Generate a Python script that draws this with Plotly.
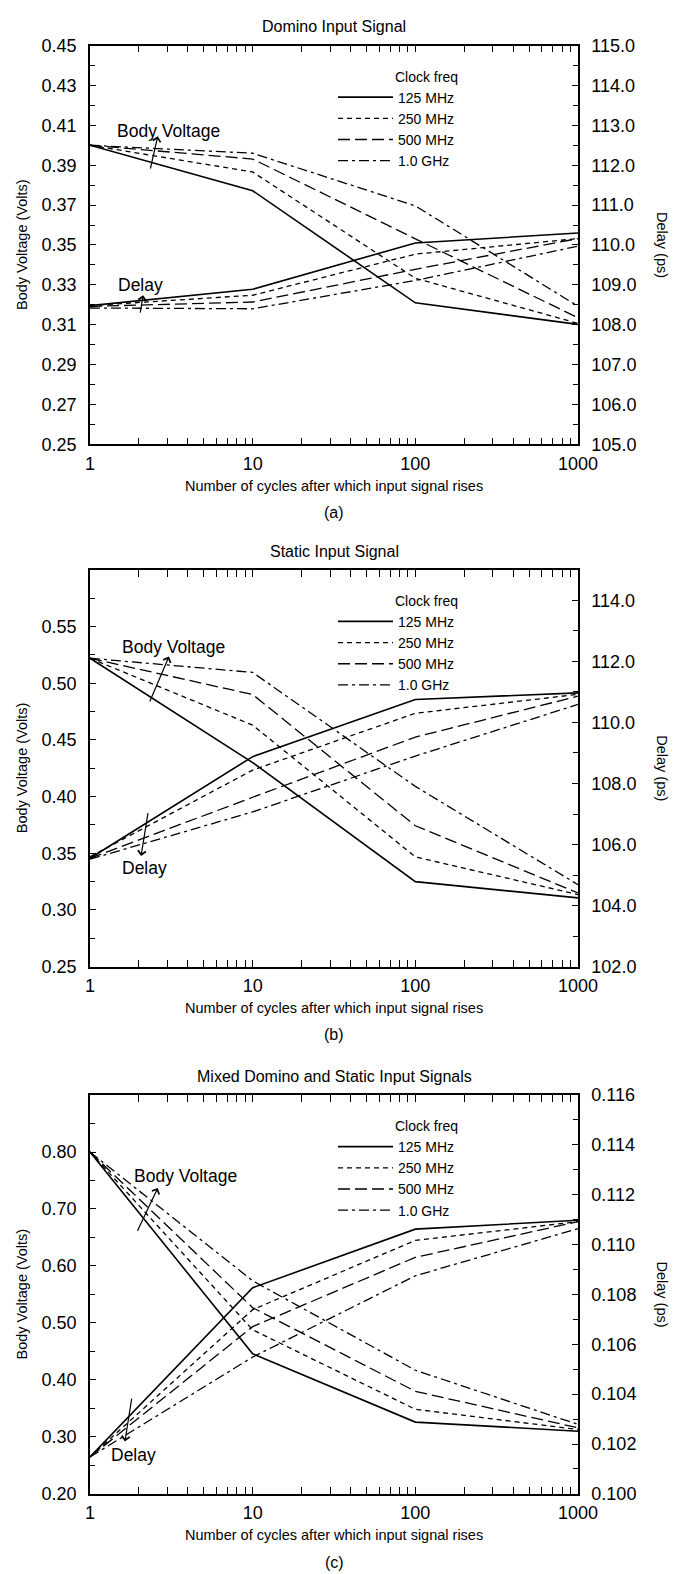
import numpy as np
import plotly.graph_objects as go

# ---------------- data ----------------
cycles = [1, 10, 100, 1000]
freq_labels = ["125 MHz", "250 MHz", "500 MHz", "1.0 GHz"]

# (a) Domino input signal
a_body_125 = [0.400, 0.3772, 0.3210, 0.3102]
a_body_250 = [0.400, 0.3866, 0.3333, 0.3107]
a_body_500 = [0.400, 0.3931, 0.3531, 0.3135]
a_body_1g = [0.400, 0.3960, 0.3696, 0.3193]
a_delay_125 = [108.48, 108.89, 110.05, 110.30]
a_delay_250 = [108.48, 108.74, 109.77, 110.16]
a_delay_500 = [108.46, 108.57, 109.39, 110.16]
a_delay_1g = [108.42, 108.40, 109.11, 109.97]

# (b) Static input signal
b_body_125 = [0.522, 0.430, 0.325, 0.3107]
b_body_250 = [0.522, 0.463, 0.3468, 0.3136]
b_body_500 = [0.522, 0.490, 0.3743, 0.3150]
b_body_1g = [0.522, 0.5095, 0.409, 0.3223]
b_delay_125 = [105.55, 108.88, 110.75, 110.97]
b_delay_250 = [105.60, 108.44, 110.30, 110.92]
b_delay_500 = [105.55, 107.55, 109.52, 110.86]
b_delay_1g = [105.52, 107.07, 108.90, 110.59]

# (c) Mixed domino and static input signals
c_body_125 = [0.800, 0.4460, 0.326, 0.310]
c_body_250 = [0.800, 0.4880, 0.3485, 0.313]
c_body_500 = [0.800, 0.5268, 0.380, 0.316]
c_body_1g = [0.800, 0.5740, 0.417, 0.322]
c_delay_125 = [0.10148, 0.10827, 0.11062, 0.11098]
c_delay_250 = [0.10148, 0.10739, 0.11017, 0.11092]
c_delay_500 = [0.10148, 0.10671, 0.10949, 0.11092]
c_delay_1g = [0.10148, 0.10549, 0.10875, 0.11064]

panel_titles = ["Domino Input Signal", "Static Input Signal",
                "Mixed Domino and Static Input Signals"]
panel_letters = ["(a)", "(b)", "(c)"]
x_title = "Number of cycles after which input signal rises"
left_title = "Body Voltage (Volts)"
right_title = "Delay (ps)"
x_tickvals = [1, 10, 100, 1000]
x_ticktext = ["1", "10", "100", "1000"]

# ---------------- styling / layout ----------------
W, H = 676, 1574
ML, MR = 90, 98
FONT = "Liberation Sans, Arial, Helvetica, sans-serif"
dash_styles = ["solid", "5px,4px", "12px,5px", "10px,4px,3px,4px"]
widths = [1.6, 1.3, 1.3, 1.3]

def py(px):
    return 1 - px / H

def pxx(px):
    return (px - ML) / (W - ML - MR)

# panel pixel boxes (top, bottom)
boxes = [(36, 440), (567, 969), (1099, 1503)]

panels = [
    dict(body=[a_body_125, a_body_250, a_body_500, a_body_1g],
         delay=[a_delay_125, a_delay_250, a_delay_500, a_delay_1g],
         lrange=[0.25, 0.45], ltick=[round(0.25 + 0.02 * i, 2) for i in range(11)], lminor=0.01, lfmt=".2f",
         rrange=[105, 115], rtick=list(range(105, 116)), rminor=0.5, rfmt=".1f",
         bv_text=(3.02, 0.407), bv_arrow=((2.34, 0.3876), (2.61, 0.4045)),
         d_text=(2.03, 0.3297), d_arrow=((2.03, 0.3153), (2.12, 0.3248))),
    dict(body=[b_body_125, b_body_250, b_body_500, b_body_1g],
         delay=[b_delay_125, b_delay_250, b_delay_500, b_delay_1g],
         lrange=[0.25, 0.60], ltick=[0.25, 0.30, 0.35, 0.40, 0.45, 0.50, 0.55], lminor=0.025, lfmt=".2f",
         rrange=[102, 115], rtick=list(range(102, 115, 2)), rminor=1, rfmt=".1f",
         bv_text=(3.28, 0.532), bv_arrow=((2.31, 0.4826), (3.06, 0.5235)),
         d_text=(2.15, 0.337), d_arrow=((2.28, 0.3868), (2.06, 0.3476))),
    dict(body=[c_body_125, c_body_250, c_body_500, c_body_1g],
         delay=[c_delay_125, c_delay_250, c_delay_500, c_delay_1g],
         lrange=[0.20, 0.90], ltick=[0.2, 0.3, 0.4, 0.5, 0.6, 0.7, 0.8], lminor=0.05, lfmt=".2f",
         rrange=[0.100, 0.116], rtick=[round(0.100 + 0.002 * i, 3) for i in range(9)], rminor=0.001, rfmt=".3f",
         bv_text=(3.89, 0.758), bv_arrow=((1.94, 0.659), (2.61, 0.737)),
         d_text=(1.84, 0.2676), d_arrow=((1.81, 0.37), (1.64, 0.292))),
]

fig = go.Figure()
layout = dict(width=W, height=H, margin=dict(l=ML, r=MR, t=0, b=0),
              paper_bgcolor="white", plot_bgcolor="white",
              font=dict(family=FONT, color="black"), showlegend=True)
annotations = []
minor_x = [m * d for d in (1, 10, 100) for m in range(2, 10)]

for i, p in enumerate(panels):
    n = i + 1
    xa = "x" if n == 1 else f"x{n}"
    yl_n = 2 * n - 1
    yr_n = 2 * n
    yl = "y" if yl_n == 1 else f"y{yl_n}"
    yr = f"y{yr_n}"
    leg = "legend" if n == 1 else f"legend{n}"
    top, bot = boxes[i]

    for k in range(4):
        fig.add_trace(go.Scatter(x=cycles, y=p["body"][k], mode="lines", name=freq_labels[k],
                                 line=dict(color="black", width=widths[k], dash=dash_styles[k]),
                                 xaxis=xa, yaxis=yl, legend=leg, showlegend=True))
    for k in range(4):
        fig.add_trace(go.Scatter(x=cycles, y=p["delay"][k], mode="lines", name=freq_labels[k],
                                 line=dict(color="black", width=widths[k], dash=dash_styles[k]),
                                 xaxis=xa, yaxis=yr, legend=leg, showlegend=False))

    xkey = "xaxis" if n == 1 else f"xaxis{n}"
    ylkey = "yaxis" if yl_n == 1 else f"yaxis{yl_n}"
    yrkey = f"yaxis{yr_n}"
    layout[xkey] = dict(type="log", range=[0, 3], domain=[0, 1], anchor=yl,
                        tickvals=x_tickvals, ticktext=x_ticktext, ticks="inside", ticklen=7,
                        tickwidth=1, tickcolor="black", showline=True, linecolor="black",
                        linewidth=1.5, mirror="allticks", showgrid=False, zeroline=False,
                        tickfont=dict(size=18, family=FONT, color="black"), ticklabelstandoff=2,
                        minor=dict(tickvals=minor_x, ticks="inside", ticklen=3, tickcolor="black",
                                   tickwidth=1, showgrid=False))
    layout[ylkey] = dict(range=p["lrange"], domain=[py(bot), py(top)], anchor=xa,
                         tickvals=p["ltick"], tickformat=p["lfmt"], ticks="inside", ticklen=6,
                         tickcolor="black", showline=True, linecolor="black", linewidth=1.5,
                         showgrid=False, zeroline=False, ticklabelstandoff=8,
                         tickfont=dict(size=18, family=FONT, color="black"),
                         minor=dict(dtick=p["lminor"], tick0=p["lrange"][0], ticks="inside",
                                    ticklen=5, tickcolor="black", showgrid=False))
    layout[yrkey] = dict(range=p["rrange"], overlaying=yl, side="right", anchor=xa,
                         tickvals=p["rtick"], tickformat=p["rfmt"], ticks="inside", ticklen=6,
                         tickcolor="black", showline=True, linecolor="black", linewidth=1.5,
                         showgrid=False, zeroline=False, ticklabelstandoff=8,
                         tickfont=dict(size=18, family=FONT, color="black"),
                         minor=dict(dtick=p["rminor"], tick0=p["rrange"][0], ticks="inside",
                                    ticklen=5, tickcolor="black", showgrid=False))
    layout[leg] = dict(x=pxx(333), y=py(top + 18), xanchor="left", yanchor="top",
                       bgcolor="rgba(0,0,0,0)", borderwidth=0,
                       font=dict(size=14, family=FONT, color="black"),
                       title=dict(text="Clock freq", side="top right",
                                  font=dict(size=14, family=FONT, color="black")),
                       tracegroupgap=0, itemwidth=55)

    # titles and labels
    annotations.append(dict(text=panel_titles[i], xref="paper", yref="paper", x=0.5, y=py(top - 19),
                            showarrow=False, font=dict(size=16, family=FONT), xanchor="center", yanchor="middle"))
    annotations.append(dict(text=x_title, xref="paper", yref="paper", x=0.5, y=py(bot + 42),
                            showarrow=False, font=dict(size=14.5, family=FONT), xanchor="center", yanchor="middle"))
    annotations.append(dict(text=panel_letters[i], xref="paper", yref="paper", x=0.5, y=py(bot + 69),
                            showarrow=False, font=dict(size=16, family=FONT), xanchor="center", yanchor="middle"))
    annotations.append(dict(text=left_title, xref="paper", yref="paper", x=pxx(22), y=py((top + bot) / 2),
                            showarrow=False, textangle=-90, font=dict(size=14.5, family=FONT),
                            xanchor="center", yanchor="middle"))
    annotations.append(dict(text=right_title, xref="paper", yref="paper", x=pxx(662), y=py((top + bot) / 2),
                            showarrow=False, textangle=90, font=dict(size=14.5, family=FONT),
                            xanchor="center", yanchor="middle"))
    # "Body Voltage" / "Delay" labels with arrows
    annotations.append(dict(text="Body Voltage", xref=xa, yref=yl, x=np.log10(p["bv_text"][0]),
                            y=p["bv_text"][1], showarrow=False, font=dict(size=17.5, family=FONT)))
    annotations.append(dict(text="Delay", xref=xa, yref=yl, x=np.log10(p["d_text"][0]),
                            y=p["d_text"][1], showarrow=False, font=dict(size=17.5, family=FONT)))
    for (tail, head) in (p["bv_arrow"], p["d_arrow"]):
        annotations.append(dict(text="", xref=xa, yref=yl, axref=xa, ayref=yl,
                                x=np.log10(head[0]), y=head[1], ax=np.log10(tail[0]), ay=tail[1],
                                showarrow=True, arrowhead=4, arrowsize=1.3, arrowwidth=1.2,
                                arrowcolor="black", standoff=0, startstandoff=0))

layout["annotations"] = annotations
fig.update_layout(**layout)
fig.write_html("out.html")
